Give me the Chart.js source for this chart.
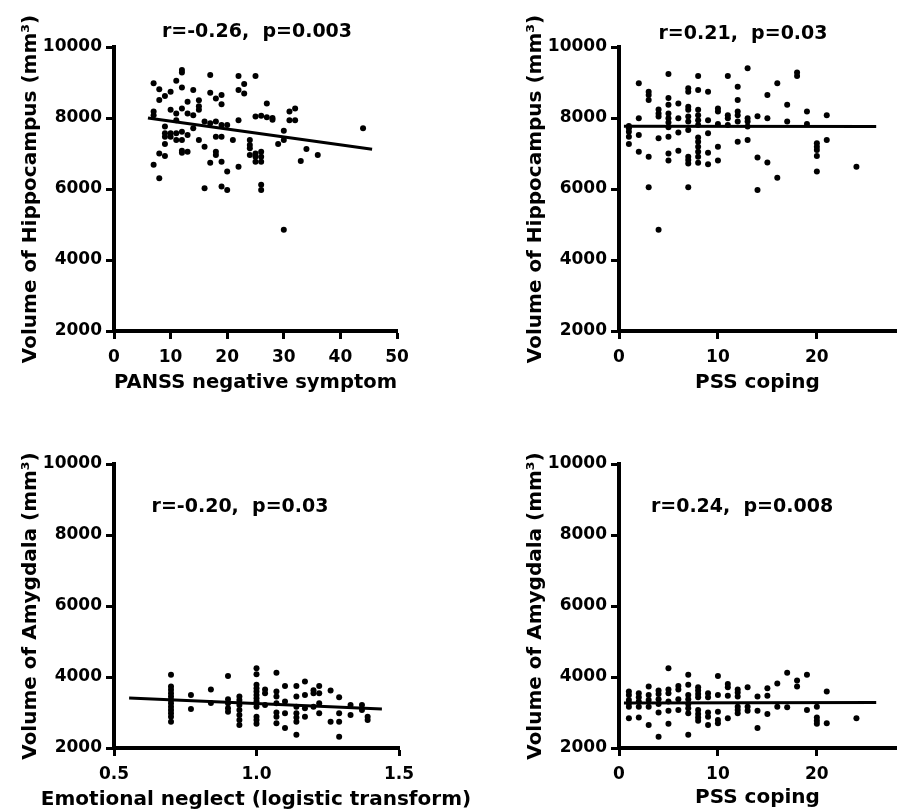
<!DOCTYPE html>
<html>
<head>
<meta charset="utf-8">
<script src="https://cdn.jsdelivr.net/npm/chart.js@4"></script>
<style>
  body { margin: 0; background: #fff; }
  #wrap { position: relative; width: 900px; height: 812px; overflow: hidden; background: #fff; }
  canvas { position: absolute; }
</style>
</head>
<body>
<div id="wrap">
  <canvas id="c3" width="480" height="412" style="left:0;top:400px"></canvas>
  <canvas id="c4" width="450" height="412" style="left:450px;top:400px"></canvas>
  <canvas id="c1" width="450" height="400" style="left:0;top:0"></canvas>
  <canvas id="c2" width="450" height="400" style="left:450px;top:0"></canvas>
</div>
<script>
// PANSS negative symptom vs hippocampus volume
const panssX = [7, 8, 9, 10, 11, 12, 12, 12, 13, 14, 15, 15, 17, 17, 18, 19, 19, 22, 22, 23, 23, 25, 27,
  7, 7, 8, 10, 11, 11, 12, 13, 14, 15, 16, 17, 18, 19, 20, 22, 25, 26, 27, 28, 28, 31, 32, 31, 32,
  9, 9, 9, 10, 10, 11, 11, 12, 12, 13, 14, 15, 16, 18, 19, 21, 24, 24, 24, 24, 25, 25, 26, 26, 26, 25, 29, 30, 30, 34, 36, 33, 44,
  7, 8, 8, 9, 9, 12, 12, 13, 17, 18, 18, 19, 20, 22, 16, 19, 20, 26, 26, 30];
const panssHippo = [8980, 8810, 8620, 8740, 9050, 9350, 9280, 8860, 8460, 8790, 8500, 8330, 9210, 8710, 8550, 8650, 8390, 9180, 8790, 8960, 8690, 9180, 8410,
  8180, 8080, 8510, 8230, 7940, 8130, 8270, 8130, 8080, 8230, 7900, 7850, 7900, 7800, 7800, 7940, 8040, 8060, 8020, 8000, 7950, 8180, 8270, 7940, 7940,
  7760, 7570, 7470, 7570, 7470, 7570, 7380, 7380, 7610, 7520, 7710, 7380, 7190, 7470, 7470, 7380, 7380, 7240, 7150, 6960, 7000, 6910, 7050, 6910, 6770, 6770, 7270, 7640, 7380, 7130, 6960, 6790, 7710,
  6680, 6300, 7000, 6930, 7270, 7080, 7020, 7050, 6740, 7050, 6960, 6770, 6490, 6630, 6020, 6070, 5970, 6120, 5970, 4850];
const panssFitX = [6, 45.6];
const panssFitY = [8000, 7120];

// PSS coping vs hippocampus volume
const pssHippoX = [1, 1, 1, 1, 1, 2, 2, 2, 2, 3, 3, 3, 3, 3, 4, 4, 4, 4, 4,
  5, 5, 5, 5, 5, 5, 5, 5, 5, 5, 6, 6, 6, 6,
  7, 7, 7, 7, 7, 7, 7, 7, 7, 7, 7, 8, 8, 8, 8, 8, 8, 8, 8, 8, 8, 8, 8,
  9, 9, 9, 9, 9, 10, 10, 10, 10, 10, 11, 11, 11, 11, 12, 12, 12, 12, 12, 12,
  13, 13, 13, 13, 13, 14, 14, 14, 15, 15, 15, 16, 16, 17, 17, 18, 18, 19, 19,
  20, 20, 20, 20, 20, 21, 21, 24];
const pssHippoY = [7775, 7710, 7615, 7470, 7270, 8980, 7990, 7520, 7050, 8740, 8650, 8510, 6910, 6050, 8240, 8130, 8040, 7430, 4850,
  9240, 8560, 8370, 8130, 7990, 7870, 7740, 7470, 7000, 6800, 8410, 7990, 7590, 7080,
  8840, 8740, 8320, 8230, 8040, 7900, 7660, 6910, 6820, 6720, 6050, 9180, 8790, 8230, 8080, 7940, 7800, 7450, 7330, 7190, 7050, 6910, 6740,
  8740, 7940, 7570, 7020, 6700, 8270, 8180, 7830, 7190, 6800, 9180, 8080, 7990, 7800, 8880, 8510, 8180, 8080, 7900, 7330,
  9400, 7990, 7900, 7760, 7380, 8050, 6890, 5970, 8650, 7990, 6750, 8980, 6320, 8370, 7900, 9280, 9180, 8180, 7830,
  7290, 7190, 7100, 6930, 6490, 8080, 7380, 6630];
const pssHippoFitX = [0.5, 26];
const pssHippoFitY = [7770, 7760];

// emotional neglect vs amygdala volume
const neglectX = [0.70, 0.70, 0.70, 0.70, 0.70, 0.70, 0.70, 0.70, 0.70, 0.70, 0.70, 0.70,
  0.77, 0.77, 0.84, 0.84, 0.90, 0.90, 0.90, 0.90, 0.90,
  0.94, 0.94, 0.94, 0.94, 0.94, 0.94, 0.94,
  1.00, 1.00, 1.00, 1.00, 1.00, 1.00, 1.00, 1.00, 1.00, 1.00, 1.00, 1.00,
  1.03, 1.03, 1.03, 1.07, 1.07, 1.07, 1.07, 1.07, 1.07, 1.07,
  1.10, 1.10, 1.10, 1.10, 1.14, 1.14, 1.14, 1.14, 1.14, 1.14, 1.14,
  1.17, 1.17, 1.17, 1.17, 1.20, 1.20, 1.20, 1.22, 1.22, 1.22, 1.22,
  1.26, 1.26, 1.29, 1.29, 1.29, 1.29, 1.33, 1.33, 1.37, 1.37, 1.39, 1.39];
const neglectAmyg = [4060, 3730, 3640, 3540, 3450, 3350, 3260, 3160, 3070, 2980, 2880, 2740,
  3490, 3100, 3650, 3270, 4030, 3370, 3260, 3120, 3020,
  3450, 3350, 3210, 3070, 2930, 2790, 2650,
  4250, 4080, 3780, 3680, 3590, 3490, 3400, 3310, 3160, 2880, 2790, 2680,
  3650, 3540, 3210, 4120, 3590, 3450, 3260, 3000, 2880, 2700,
  3750, 3310, 2980, 2560, 3750, 3450, 3160, 2980, 2860, 2740, 2370,
  3870, 3490, 3120, 2880, 3630, 3540, 3160, 3750, 3540, 3260, 2980,
  3620, 2740, 3430, 2980, 2740, 2320, 3210, 2930, 3210, 3070, 2880, 2790];
const neglectFitX = [0.553, 1.44];
const neglectFitY = [3410, 3100];

// PSS coping vs amygdala volume
const pssAmygX = [1, 1, 1, 1, 1, 1, 2, 2, 2, 2, 2, 3, 3, 3, 3, 3,
  4, 4, 4, 4, 4, 4, 5, 5, 5, 5, 5, 5, 6, 6, 6, 6,
  7, 7, 7, 7, 7, 7, 7, 7, 8, 8, 8, 8, 8, 8, 8, 8,
  9, 9, 9, 9, 9, 10, 10, 10, 10, 10, 11, 11, 11, 11,
  12, 12, 12, 12, 12, 12, 13, 13, 13, 14, 14, 14, 15, 15, 15,
  16, 16, 17, 17, 18, 18, 19, 19, 20, 20, 20, 20, 21, 21, 24];
const pssAmygY = [3590, 3490, 3350, 3260, 3160, 2840, 3540, 3430, 3310, 3160, 2860, 3730, 3490, 3350, 3160, 2650,
  3620, 3520, 3370, 3240, 3000, 2320, 4250, 3650, 3540, 3310, 3050, 2680, 3750, 3650, 3370, 3070,
  4060, 3780, 3490, 3370, 3240, 3120, 2980, 2370, 3710, 3620, 3520, 3430, 3070, 2960, 2860, 2770,
  3540, 3430, 3000, 2880, 2650, 4030, 3490, 3020, 2790, 2700, 3800, 3710, 3470, 2840,
  3650, 3560, 3450, 3160, 3070, 2980, 3710, 3160, 3050, 3450, 3050, 2560, 3680, 3470, 2960,
  3820, 3160, 4120, 3150, 3900, 3730, 4060, 3070, 3160, 2860, 2770, 2680, 3590, 2700, 2840];
const pssAmygFitX = [0.5, 26];
const pssAmygFitY = [3270, 3280];

const statLabels = ['r=-0.26,  p=0.003', 'r=0.21,  p=0.03', 'r=-0.20,  p=0.03', 'r=0.24,  p=0.008'];
const xTitles = ['PANSS negative symptom', 'PSS coping', 'Emotional neglect (logistic transform)', 'PSS coping'];
const yTitles = ['Volume of Hippocampus (mm³)', 'Volume of Hippocampus (mm³)', 'Volume of Amygdala (mm³)', 'Volume of Amygdala (mm³)'];

Chart.defaults.font.family = "'DejaVu Sans', sans-serif";
Chart.defaults.font.weight = 'bold';
Chart.defaults.color = '#000';

// free text: the r/p note, and any axis title wider than its plot
const notePlugin = {
  id: 'notes',
  afterDraw(chart, args, opts) {
    const ctx = chart.ctx;
    ctx.save();
    ctx.fillStyle = '#000';
    ctx.textAlign = 'center';
    ctx.textBaseline = 'middle';
    opts.items.forEach(it => {
      ctx.font = 'bold ' + it.size + "px 'DejaVu Sans', sans-serif";
      ctx.fillText(it.text, it.x, it.y);
    });
    ctx.restore();
  }
};

function toPoints(xs, ys) {
  return xs.map((x, i) => ({x: x, y: ys[i]}));
}

function makePanel(id, p) {
  const notes = [{text: p.stat, x: p.statX, y: p.statY, size: 19}];
  if (p.xTitleAt) notes.push({text: p.xTitle, x: p.xTitleAt[0], y: p.xTitleAt[1], size: 20});
  new Chart(id, {
    type: 'scatter',
    data: {
      datasets: [{
        data: toPoints(p.xs, p.ys),
        pointRadius: 3,
        backgroundColor: '#000',
        borderWidth: 0
      }, {
        data: toPoints(p.fitX, p.fitY),
        showLine: true,
        pointRadius: 0,
        borderColor: '#000',
        borderWidth: 3
      }]
    },
    options: {
      responsive: false,
      animation: false,
      events: [],
      layout: {padding: {top: p.padTop, right: p.padRight, left: 0, bottom: 0}},
      plugins: {
        legend: {display: false},
        tooltip: {enabled: false},
        notes: {items: notes}
      },
      scales: {
        x: {
          type: 'linear',
          min: p.xMin,
          max: p.xMax,
          afterFit: s => { s.height = p.xAxisH; },
          afterBuildTicks: s => { s.ticks = s.ticks.filter(t => p.xTicks.some(v => Math.abs(v - t.value) < 1e-6)); },
          ticks: {
            stepSize: p.xStep,
            padding: 8,
            font: {size: 17, weight: 'bold'},
            callback: v => v.toFixed(p.xDec)
          },
          grid: {drawOnChartArea: false, tickLength: 8, tickWidth: 3, tickColor: '#000'},
          border: {display: true, width: 4, color: '#000'},
          title: {display: !p.xTitleAt, text: p.xTitle, font: {size: 20, weight: 'bold'}, padding: {top: 0, bottom: p.xTitlePad}}
        },
        y: {
          min: 2000,
          max: 10000,
          afterFit: s => { s.width = p.yAxisW; },
          ticks: {
            stepSize: 2000,
            padding: 4,
            font: {size: 17, weight: 'bold'},
            callback: v => String(v)
          },
          grid: {drawOnChartArea: false, tickLength: 8, tickWidth: 3, tickColor: '#000'},
          border: {display: true, width: 4, color: '#000'},
          title: {display: true, text: p.yTitle, font: {size: 20, weight: 'bold'}, padding: {top: p.yTitlePad, bottom: 0}}
        }
      }
    },
    plugins: [notePlugin]
  });
}

makePanel('c1', {xs: panssX, ys: panssHippo, fitX: panssFitX, fitY: panssFitY,
  xMin: 0, xMax: 50, xStep: 10, xDec: 0, xTicks: [0, 10, 20, 30, 40, 50],
  xTitle: xTitles[0], yTitle: yTitles[0], stat: statLabels[0], statX: 257, statY: 32,
  padTop: 47, padRight: 53, yAxisW: 114, yTitlePad: 19, xAxisH: 69, xTitlePad: 5});

makePanel('c2', {xs: pssHippoX, ys: pssHippoY, fitX: pssHippoFitX, fitY: pssHippoFitY,
  xMin: 0, xMax: 28, xStep: 10, xDec: 0, xTicks: [0, 10, 20],
  xTitle: xTitles[1], yTitle: yTitles[1], stat: statLabels[1], statX: 293, statY: 34,
  padTop: 47, padRight: 0, yAxisW: 169, yTitlePad: 74, xAxisH: 69, xTitlePad: 5});

makePanel('c3', {xs: neglectX, ys: neglectAmyg, fitX: neglectFitX, fitY: neglectFitY,
  xMin: 0.5, xMax: 1.5, xStep: 0.5, xDec: 1, xTicks: [0.5, 1.0, 1.5],
  xTitle: xTitles[2], xTitleAt: [256, 400], yTitle: yTitles[2], stat: statLabels[2], statX: 240, statY: 107,
  padTop: 64, padRight: 81, yAxisW: 114, yTitlePad: 19, xAxisH: 64, xTitlePad: 0});

makePanel('c4', {xs: pssAmygX, ys: pssAmygY, fitX: pssAmygFitX, fitY: pssAmygFitY,
  xMin: 0, xMax: 28, xStep: 10, xDec: 0, xTicks: [0, 10, 20],
  xTitle: xTitles[3], yTitle: yTitles[3], stat: statLabels[3], statX: 292, statY: 107,
  padTop: 64, padRight: 0, yAxisW: 169, yTitlePad: 74, xAxisH: 64, xTitlePad: 2});
</script>
</body>
</html>
